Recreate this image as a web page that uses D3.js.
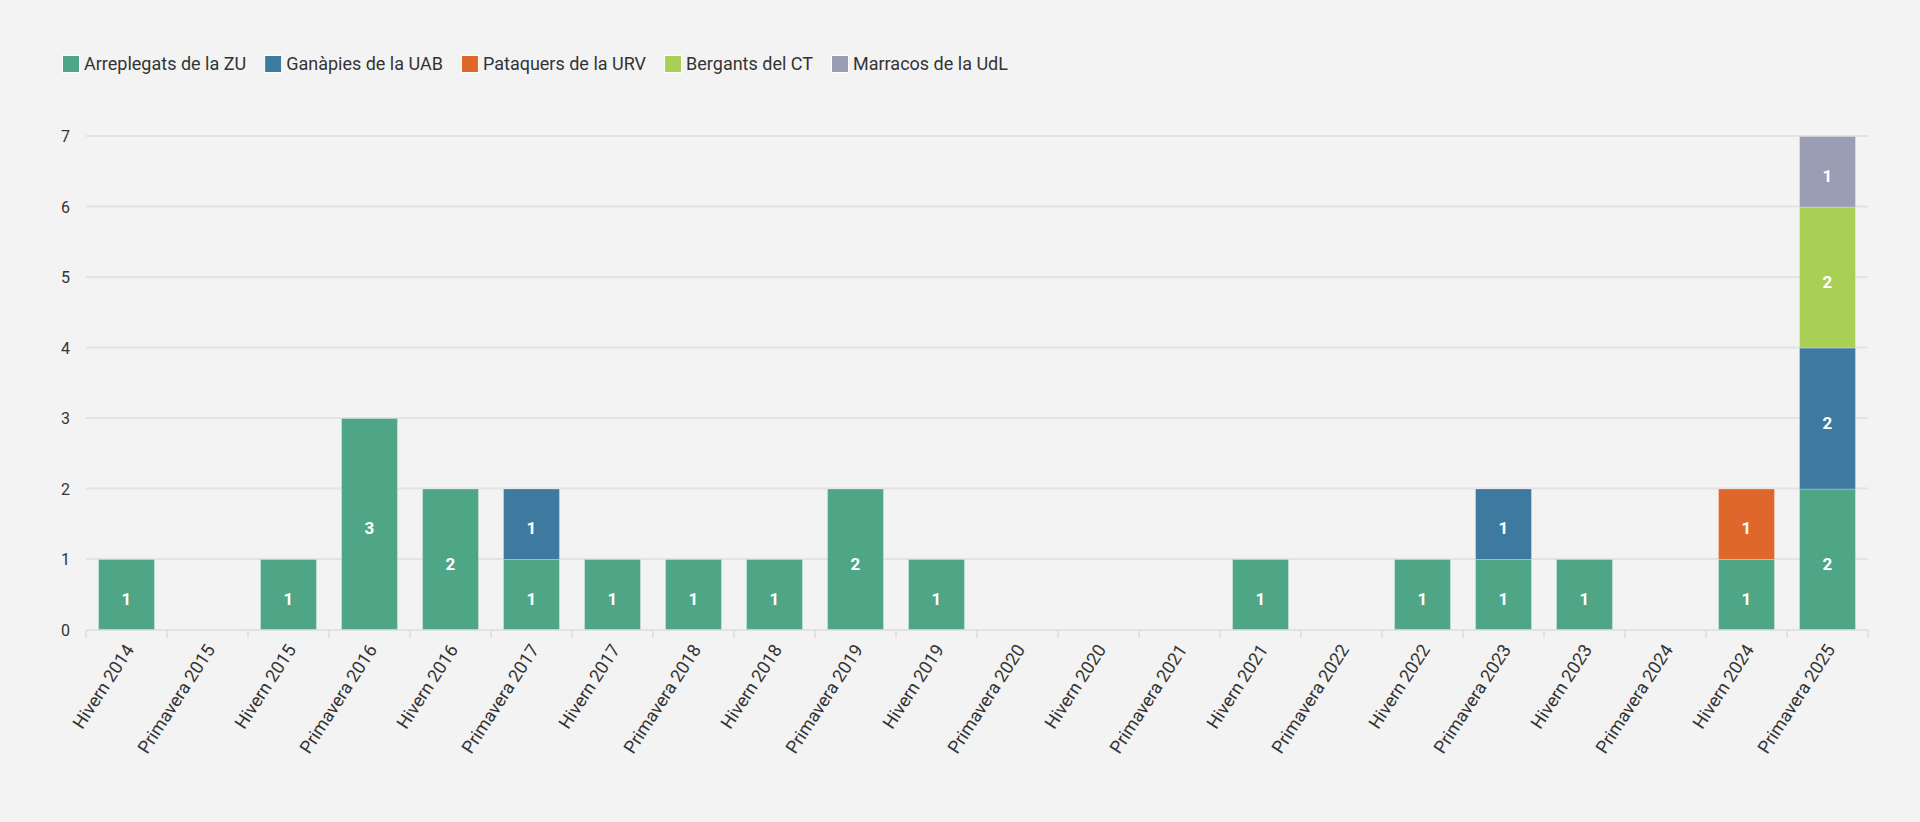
<!DOCTYPE html>
<html>
<head>
<meta charset="utf-8">
<script src="https://cdn.jsdelivr.net/npm/d3@7"></script>
<style>
  html, body { margin: 0; padding: 0; background: #f3f3f3; }
  svg { display: block; font-family: Roboto, "Noto Sans", sans-serif; }
</style>
</head>
<body>
<svg width="1920" height="822"></svg>
<script>
const svg = d3.select('svg');

const categories = [
  'Hivern 2014', 'Primavera 2015', 'Hivern 2015', 'Primavera 2016', 'Hivern 2016',
  'Primavera 2017', 'Hivern 2017', 'Primavera 2018', 'Hivern 2018', 'Primavera 2019',
  'Hivern 2019', 'Primavera 2020', 'Hivern 2020', 'Primavera 2021', 'Hivern 2021',
  'Primavera 2022', 'Hivern 2022', 'Primavera 2023', 'Hivern 2023', 'Primavera 2024',
  'Hivern 2024', 'Primavera 2025'
];

const seriesNames = ['Arreplegats de la ZU', 'Ganàpies de la UAB', 'Pataquers de la URV', 'Bergants del CT', 'Marracos de la UdL'];
const seriesColors = ['#4fa686', '#3e7a9f', '#e0672b', '#aacf55', '#9a9db4'];

const zuValues  = [1, 0, 1, 3, 2, 1, 1, 1, 1, 2, 1, 0, 0, 0, 1, 0, 1, 1, 1, 0, 1, 2];
const uabValues = [0, 0, 0, 0, 0, 1, 0, 0, 0, 0, 0, 0, 0, 0, 0, 0, 0, 1, 0, 0, 0, 2];
const urvValues = [0, 0, 0, 0, 0, 0, 0, 0, 0, 0, 0, 0, 0, 0, 0, 0, 0, 0, 0, 0, 1, 0];
const ctValues  = [0, 0, 0, 0, 0, 0, 0, 0, 0, 0, 0, 0, 0, 0, 0, 0, 0, 0, 0, 0, 0, 2];
const udlValues = [0, 0, 0, 0, 0, 0, 0, 0, 0, 0, 0, 0, 0, 0, 0, 0, 0, 0, 0, 0, 0, 1];

const yTicks = [0, 1, 2, 3, 4, 5, 6, 7];

const allValues = [zuValues, uabValues, urvValues, ctValues, udlValues];

// table for d3.stack
const table = categories.map((c, i) => {
  const row = { cat: c };
  seriesNames.forEach((s, j) => { row[s] = allValues[j][i]; });
  return row;
});

const plotLeft = 86, plotRight = 1868, plotTop = 136.5, plotBottom = 630;

const x = d3.scaleBand()
  .domain(categories)
  .range([plotLeft, plotRight])
  .paddingInner(0.31)
  .paddingOuter(0.155);

const y = d3.scaleLinear()
  .domain([0, 7])
  .range([plotBottom, plotTop]);

const color = d3.scaleOrdinal().domain(seriesNames).range(seriesColors);

// gridlines
svg.append('g')
  .selectAll('line')
  .data(yTicks.filter(d => d > 0))
  .enter()
  .append('line')
  .attr('x1', plotLeft)
  .attr('x2', plotRight)
  .attr('y1', d => y(d) - 0.5)
  .attr('y2', d => y(d) - 0.5)
  .attr('stroke', '#e3e3e3')
  .attr('stroke-width', 2);

// y axis labels
const yAxis = svg.append('g')
  .attr('transform', `translate(${plotLeft},0)`)
  .call(d3.axisLeft(y).tickValues(yTicks).tickFormat(d3.format('d')).tickSize(0).tickPadding(16));
yAxis.select('.domain').remove();
yAxis.selectAll('text')
  .attr('font-size', 16)
  .attr('font-family', 'Roboto, sans-serif')
  .attr('fill', '#333');

// stacked bars
const stacked = d3.stack().keys(seriesNames)(table);

const layers = svg.append('g')
  .selectAll('g')
  .data(stacked)
  .enter()
  .append('g')
  .attr('fill', d => color(d.key));

layers.selectAll('rect')
  .data(d => d.filter(p => p[1] > p[0]))
  .enter()
  .append('rect')
  .attr('x', d => x(d.data.cat))
  .attr('width', x.bandwidth())
  .attr('y', d => y(d[1]))
  .attr('height', d => y(d[0]) - y(d[1]))
  .attr('stroke', 'rgba(255,255,255,0.25)')
  .attr('stroke-width', 1);

layers.selectAll('text')
  .data(d => d.filter(p => p[1] > p[0]))
  .enter()
  .append('text')
  .attr('x', d => x(d.data.cat) + x.bandwidth() / 2)
  .attr('y', d => (y(d[0]) + y(d[1])) / 2)
  .attr('dy', '0.6em')
  .attr('text-anchor', 'middle')
  .attr('font-size', 17)
  .attr('font-weight', 'bold')
  .attr('fill', '#fff')
  .text(d => d[1] - d[0]);

// x axis
const step = x.step();
svg.append('line')
  .attr('x1', plotLeft).attr('x2', plotRight)
  .attr('y1', plotBottom).attr('y2', plotBottom)
  .attr('stroke', '#dcdcdc')
  .attr('stroke-width', 1.5);

svg.append('g')
  .selectAll('line')
  .data(d3.range(categories.length + 1))
  .enter()
  .append('line')
  .attr('x1', i => plotLeft + i * step)
  .attr('x2', i => plotLeft + i * step)
  .attr('y1', plotBottom)
  .attr('y2', plotBottom + 8)
  .attr('stroke', '#dcdcdc')
  .attr('stroke-width', 1.5);

svg.append('g')
  .selectAll('text')
  .data(categories)
  .enter()
  .append('text')
  .attr('transform', d => `translate(${x(d) + x.bandwidth() / 2 + 3},${plotBottom + 16}) rotate(-57)`)
  .attr('dy', '0.35em')
  .attr('text-anchor', 'end')
  .attr('font-size', 18)
  .attr('fill', '#333')
  .text(d => d);

// legend
const legend = svg.append('g').attr('transform', 'translate(62,55)');
let lx = 0;
seriesNames.forEach((s, i) => {
  const g = legend.append('g').attr('transform', `translate(${lx},0)`);
  g.append('rect')
    .attr('width', 17)
    .attr('height', 17)
    .attr('x', 0.5).attr('y', 0.5)
    .attr('fill', color(s))
    .attr('stroke', '#fff')
    .attr('stroke-width', 1);
  const t = g.append('text')
    .attr('x', 22)
    .attr('y', 9)
    .attr('dy', '0.35em')
    .attr('font-size', 18)
    .attr('fill', '#333')
    .text(s);
  lx += 22 + t.node().getComputedTextLength() + 18;
});
</script>
</body>
</html>
